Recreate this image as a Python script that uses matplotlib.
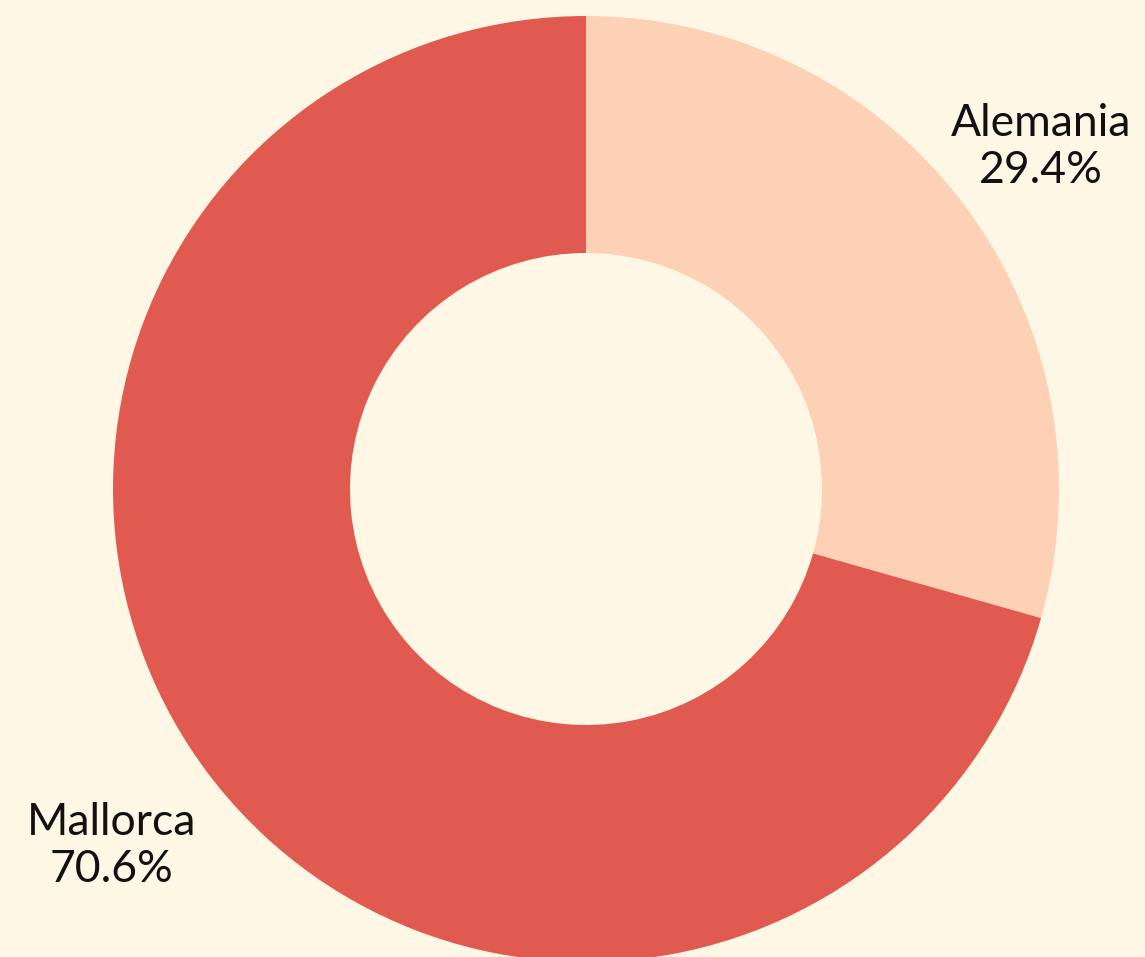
import matplotlib.pyplot as plt

# === Data ===
labels = ['Alemania', 'Mallorca']
shares = [29.4, 70.6]
colors = ['#FDD1B5', '#E05A4F']
bg = '#FFF7E5'

W, H = 1145, 957
fig = plt.figure(figsize=(W / 100, H / 100), dpi=100, facecolor=bg)
ax = fig.add_axes([0, 0, 1, 1])
ax.set_facecolor(bg)

R = 473
cx, cy = 586, H - 489
ax.pie(shares, colors=colors, startangle=90, counterclock=False,
       radius=R, center=(cx, cy), frame=True,
       wedgeprops=dict(width=237, linewidth=0))
ax.set_xlim(0, W)
ax.set_ylim(0, H)
ax.set_aspect('equal')
ax.axis('off')

# label positions (pixel coords of text centres)
label_pos = [(1041, H - 147), (112, H - 846)]
for lab, val, (x, y) in zip(labels, shares, label_pos):
    ax.text(x, y, f'{lab}\n{val:.1f}%', ha='center', va='center',
            fontsize=32, family='Lato', color='#111111', linespacing=1.2)

fig.savefig('out.png', dpi=100, facecolor=bg)
